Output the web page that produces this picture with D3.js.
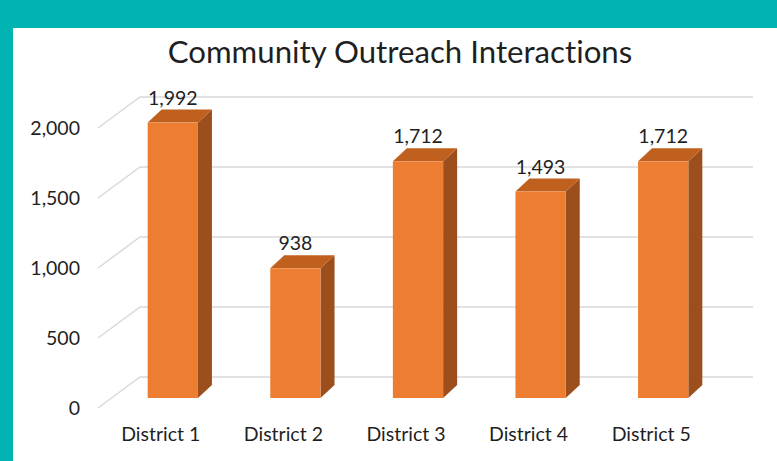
<!DOCTYPE html>
<html>
<head>
<meta charset="utf-8">
<script src="https://cdn.jsdelivr.net/npm/d3@7"></script>
<style>
  html, body { margin: 0; padding: 0; background: #00B4B4; }
  svg { display: block; }
  text { font-variant-ligatures: none; font-feature-settings: "liga" 0, "clig" 0; }
</style>
</head>
<body>
<svg id="chart" width="777" height="461"></svg>
<script>
// ---- data ----
const categories = ["District 1", "District 2", "District 3", "District 4", "District 5"];
const values = [1992, 938, 1712, 1493, 1712];
const tickValues = [0, 500, 1000, 1500, 2000];
const title = "Community Outreach Interactions";

// ---- layout ----
const W = 777, H = 461;
const svg = d3.select("#chart");
const fontFamily = "Lato, 'Open Sans', sans-serif";
const labelSize = 19.5;

// teal frame + white panel
svg.append("rect").attr("x", 0).attr("y", 0).attr("width", W).attr("height", H).attr("fill", "#00B4B4");
svg.append("rect").attr("x", 13).attr("y", 28).attr("width", W - 13).attr("height", H - 28).attr("fill", "#FFFFFF");

// 3D geometry
const floorLeft = 98, floorRight = 711;      // front edge of floor
const frontZeroY = 408;                       // value 0 at front-left of wall
const wallDX = 42, wallDY = -31;              // depth of side wall
const barFrontZeroY = 398;                    // bar base front edge
const barDX = 14, barDY = -13;                // bar depth
const barShiftX = 13.5;                       // bar front offset along depth

const x = d3.scaleBand().domain(categories).range([floorLeft, floorRight]).paddingInner(0).paddingOuter(0);
const yWall = d3.scaleLinear().domain([0, 2000]).range([0, 280]);
const yBar = d3.scaleLinear().domain([0, 2000]).range([0, 276.5]);
const barW = x.bandwidth() * 0.41;

// title
svg.append("text")
  .attr("x", 400).attr("y", 63)
  .attr("text-anchor", "middle")
  .attr("font-family", fontFamily)
  .attr("font-size", 31.2)
  .attr("fill", "#1f1f1f")
  .text(title);

// gridlines (side wall + back wall)
const grid = svg.append("g");
tickValues.forEach(v => {
  const yf = frontZeroY - yWall(v);
  grid.append("path")
    .attr("d", `M${floorLeft},${yf} L${floorLeft + wallDX},${yf + wallDY} L${floorRight + wallDX},${yf + wallDY}`)
    .attr("fill", "none")
    .attr("stroke", "#D9D9D9")
    .attr("stroke-width", 1.5);
});

// y tick labels
svg.append("g").selectAll("text").data(tickValues).join("text")
  .attr("x", 80)
  .attr("y", d => frontZeroY - yWall(d))
  .attr("dy", "0.35em")
  .attr("text-anchor", "end")
  .attr("font-family", fontFamily)
  .attr("font-size", labelSize)
  .attr("fill", "#1f1f1f")
  .text(d => d3.format(",")(d));

// bars
const bars = svg.append("g").selectAll("g").data(categories.map((c, i) => ({c, v: values[i]}))).join("g");
bars.each(function(d) {
  const g = d3.select(this);
  const cx = x(d.c) + x.bandwidth() / 2 + barShiftX;
  const x0 = cx - barW / 2, x1 = cx + barW / 2;
  const yb = barFrontZeroY, yt = barFrontZeroY - yBar(d.v);
  // side face
  g.append("path")
    .attr("d", `M${x1},${yb} L${x1 + barDX},${yb + barDY} L${x1 + barDX},${yt + barDY} L${x1},${yt} Z`)
    .attr("fill", "#9C4E1C");
  // top face
  g.append("path")
    .attr("d", `M${x0},${yt} L${x0 + barDX},${yt + barDY} L${x1 + barDX},${yt + barDY} L${x1},${yt} Z`)
    .attr("fill", "#C0601F");
  // front face
  g.append("rect")
    .attr("x", x0).attr("y", yt).attr("width", barW).attr("height", yb - yt)
    .attr("fill", "#ED7D31");
  // data label
  g.append("text")
    .attr("x", cx).attr("y", yt + barDY - 5)
    .attr("text-anchor", "middle")
    .attr("font-family", fontFamily)
    .attr("font-size", labelSize)
    .attr("fill", "#1f1f1f")
    .text(d3.format(",")(d.v));
});

// category labels
svg.append("g").selectAll("text").data(categories).join("text")
  .attr("x", d => x(d) + x.bandwidth() / 2 + 1.5)
  .attr("y", 441)
  .attr("text-anchor", "middle")
  .attr("font-family", fontFamily)
  .attr("font-size", labelSize)
  .attr("fill", "#1f1f1f")
  .text(d => d);
</script>
</body>
</html>
